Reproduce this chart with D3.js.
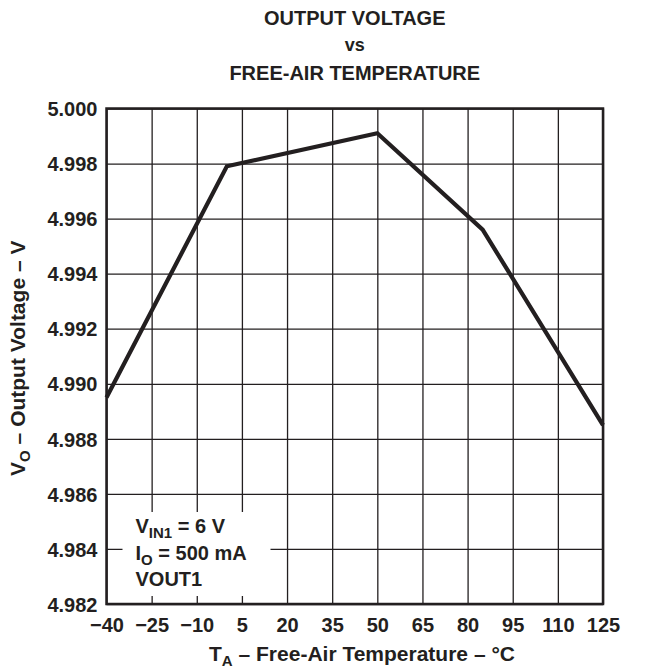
<!DOCTYPE html>
<html>
<head>
<meta charset="utf-8">
<script src="https://cdn.jsdelivr.net/npm/d3@7"></script>
<style>
  html, body { margin: 0; padding: 0; background: #fff; }
  svg { display: block; }
  text { font-family: "Liberation Sans", Arial, Helvetica, sans-serif; font-weight: bold; fill: #231f20; }
</style>
</head>
<body>
<svg id="chart" width="645" height="670"></svg>
<script>
// ---- data ----
const temperatures = [-40, 0, 50, 85, 125];
const outputVoltage = [4.9895, 4.9979, 4.9991, 4.9956, 4.9885];
const xTicks = [-40, -25, -10, 5, 20, 35, 50, 65, 80, 95, 110, 125];
const yTicks = [4.982, 4.984, 4.986, 4.988, 4.990, 4.992, 4.994, 4.996, 4.998, 5.000];
const titleLines = ["OUTPUT VOLTAGE", "vs", "FREE-AIR TEMPERATURE"];

// ---- layout ----
const M = { left: 106.5, top: 108.5, right: 42, bottom: 66 };
const W = 645 - M.left - M.right;
const H = 670 - M.top - M.bottom;
const ink = "#231f20";

const svg = d3.select("#chart");
const g = svg.append("g").attr("transform", `translate(${M.left},${M.top})`);

const x = d3.scaleLinear().domain([-40, 125]).range([0, W]);
const y = d3.scaleLinear().domain([4.982, 5.000]).range([H, 0]);

// grid via axes
const gx = g.append("g")
  .attr("transform", `translate(0,${H})`)
  .call(d3.axisBottom(x).tickValues(xTicks).tickSize(-H).tickFormat(""));
const gy = g.append("g")
  .call(d3.axisLeft(y).tickValues(yTicks).tickSize(-W).tickFormat(""));
[gx, gy].forEach(a => {
  a.select(".domain").remove();
  a.selectAll("line").attr("stroke", ink).attr("stroke-width", 1.3);
});

// white box behind annotation (breaks grid lines)
g.append("rect")
  .attr("x", 16).attr("y", 403.5)
  .attr("width", 148).attr("height", 84)
  .attr("fill", "#fff");

// tick labels
const tickFont = "20px";
const xl = g.append("g")
  .attr("transform", `translate(0,${H})`)
  .call(d3.axisBottom(x).tickValues(xTicks).tickSize(0).tickPadding(0)
    .tickFormat(d => d < 0 ? "\u2212" + Math.abs(d) : d));
xl.select(".domain").remove();
xl.selectAll("text").attr("y", 28).attr("dy", 0)
  .style("font-size", tickFont).style("font-family", "Liberation Sans, Arial, sans-serif").style("font-weight", "bold").attr("fill", ink);

const yl = g.append("g")
  .call(d3.axisLeft(y).tickValues(yTicks).tickSize(0).tickPadding(9).tickFormat(d3.format(".3f")));
yl.select(".domain").remove();
yl.selectAll("text").attr("dy", "0.36em")
  .style("font-size", tickFont).style("font-family", "Liberation Sans, Arial, sans-serif").style("font-weight", "bold").attr("fill", ink);

// data line
const line = d3.line().x((d, i) => x(temperatures[i])).y(d => y(d));
g.append("path")
  .datum(outputVoltage)
  .attr("d", line)
  .attr("fill", "none")
  .attr("stroke", ink)
  .attr("stroke-width", 4.2)
  .attr("stroke-linejoin", "miter");

// frame
g.append("rect")
  .attr("x", 0).attr("y", 0).attr("width", W).attr("height", H)
  .attr("fill", "none").attr("stroke", ink).attr("stroke-width", 2.5);

// title
const cx = M.left + W / 2;
svg.append("g").selectAll("text").data(titleLines).join("text")
  .attr("x", cx).attr("y", (d, i) => [25, 51, 80][i])
  .attr("text-anchor", "middle").style("font-size", (d, i) => i === 1 ? "18px" : "20px")
  .text(d => d);

// annotation
const ann = g.append("g").attr("transform", "translate(29,0)").style("font-size", "20px");
const t1 = ann.append("text").attr("y", 424.5);
t1.append("tspan").text("V");
t1.append("tspan").attr("dy", 5).style("font-size", "15px").text("IN1");
t1.append("tspan").attr("dy", -5).text(" = 6 V");
const t2 = ann.append("text").attr("y", 451);
t2.append("tspan").text("I");
t2.append("tspan").attr("dy", 5).style("font-size", "15px").text("O");
t2.append("tspan").attr("dy", -5).text(" = 500 mA");
ann.append("text").attr("y", 477).text("VOUT1");

// x axis label
const xt = svg.append("text").attr("x", 362).attr("y", 661).attr("text-anchor", "middle").style("font-size", "21px");
xt.append("tspan").text("T");
xt.append("tspan").attr("dy", 5).style("font-size", "15px").text("A");
xt.append("tspan").attr("dy", -5).text(" \u2013 Free-Air Temperature \u2013 \u00B0C");

// y axis label
const yt = svg.append("text")
  .attr("transform", `translate(25,${M.top + H / 2 + 2}) rotate(-90)`)
  .attr("text-anchor", "middle").style("font-size", "21px");
yt.append("tspan").text("V");
yt.append("tspan").attr("dy", 5).style("font-size", "15px").text("O");
yt.append("tspan").attr("dy", -5).text(" \u2013 Output Voltage \u2013 V");
</script>
</body>
</html>
